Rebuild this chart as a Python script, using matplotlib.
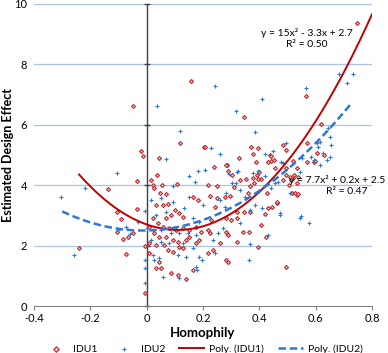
import numpy as np
import matplotlib
matplotlib.use("Agg")
import matplotlib.pyplot as plt

# IDU1 points (homophily, design effect)
idu1_x = [-0.24, -0.138, -0.107, -0.092, -0.107, -0.083, -0.068, -0.047, -0.072, -0.048,
          -0.035, -0.033, -0.021, -0.012, -0.005, -0.005, 0.015, 0.021, 0.027, 0.038,
          0.045, 0.055, 0.108, 0.119, 0.157, 0.205, 0.048, 0.07, 0.033, 0.057,
          0.074, 0.163, 0.183, 0.102, 0.116, 0.13, 0.087, 0.069, 0.022, 0.04,
          0.009, 0.057, 0.081, 0.104, 0.128, 0.151, 0.175, 0.193, 0.027, 0.045,
          0.069, 0.092, 0.11, 0.116, 0.128, 0.14, 0.151, 0.009, 0.033, 0.062,
          0.074, 0.092, 0.175, 0.187, 0.033, 0.05, 0.045, 0.087, 0.11, 0.163,
          0.139, 0.009, 0.225, 0.248, 0.242, 0.278, 0.296, 0.361, 0.32, 0.344,
          0.367, 0.42, 0.281, 0.299, 0.322, 0.23, 0.219, 0.225, 0.281, 0.287,
          0.343, 0.362, 0.322, 0.26, 0.236, 0.396, 0.281, 0.287, 0.219, 0.496,
          0.446, 0.464, 0.517, 0.535, 0.505, 0.535, 0.511, 0.523, 0.422, 0.405,
          0.426, 0.381, 0.333, 0.31, 0.407, 0.392, 0.239, 0.284, 0.288, 0.329,
          0.37, 0.394, 0.379, 0.388, 0.399, 0.353, 0.379, 0.396, 0.302, 0.248,
          0.219, 0.367, 0.207, 0.347, 0.564, 0.618, 0.748, 0.485, 0.493, 0.568,
          0.437, 0.431, 0.452, 0.606, 0.629, 0.57, 0.594, 0.519, 0.496, 0.496,
          0.508, 0.519, 0.537, 0.485, 0.525, 0.537, 0.461, 0.431, 0.283, 0.442,
          0.44, 0.457, 0.532, 0.597]
idu1_y = [1.91, 3.86, 3.12, 2.89, 2.44, 2.22, 2.27, 2.43, 1.73, 6.62,
          4.14, 3.21, 5.13, 4.97, 1.99, 0.44, 4.17, 4.0, 3.9, 4.34,
          4.89, 4.0, 4.03, 5.41, 7.45, 5.28, 3.75, 3.71, 3.34, 3.34,
          3.37, 3.62, 3.51, 3.18, 3.07, 2.96, 3.01, 2.90, 2.90, 2.74,
          2.63, 2.63, 2.57, 2.52, 2.57, 2.52, 2.63, 2.46, 2.41, 2.29,
          2.29, 2.19, 2.13, 1.96, 1.91, 2.19, 2.29, 2.08, 2.02, 2.02,
          1.85, 1.80, 2.08, 2.19, 1.25, 1.25, 1.47, 1.08, 1.03, 1.19,
          0.89, 1.74, 3.64, 3.57, 3.29, 3.62, 3.64, 3.75, 3.12, 3.12,
          3.12, 3.05, 2.90, 2.85, 2.90, 2.85, 2.52, 2.41, 2.46, 2.35,
          2.46, 2.46, 2.13, 2.08, 1.85, 1.96, 1.52, 1.47, 1.74, 1.28,
          3.29, 3.40, 3.73, 3.68, 4.0, 4.06, 4.17, 4.34, 2.29, 2.68,
          3.73, 4.06, 4.17, 3.95, 4.19, 4.34, 4.61, 4.67, 4.48, 4.89,
          5.28, 5.24, 5.02, 4.76, 4.43, 4.2, 4.23, 4.19, 4.34, 3.97,
          4.0, 3.97, 5.26, 6.25, 6.95, 6.02, 9.36, 5.33, 5.17, 5.39,
          5.0, 4.78, 4.83, 5.08, 5.0, 4.78, 4.78, 4.80, 4.56, 4.34,
          4.28, 4.23, 4.28, 4.17, 3.73, 3.70, 3.45, 3.24, 4.66, 4.98,
          4.79, 4.56, 4.56, 4.80]

# IDU2 points
idu2_x = [-0.303, -0.219, -0.258, -0.105, -0.1, -0.074, -0.059, -0.03, -0.006, -0.006,
          -0.006, -0.006, 0.035, 0.118, 0.07, 0.151, 0.183, 0.206, 0.173, 0.092,
          0.015, 0.05, 0.092, 0.149, 0.199, 0.134, 0.069, 0.033, 0.163, 0.187,
          0.0, 0.022, 0.05, 0.087, 0.116, 0.146, 0.175, 0.015, 0.05, 0.081,
          0.128, 0.163, 0.022, 0.045, 0.027, 0.11, 0.14, 0.187, 0.175, 0.116,
          0.057, 0.197, 0.18, 0.236, 0.254, 0.272, 0.33, 0.367, 0.385, 0.26,
          0.278, 0.242, 0.368, 0.363, 0.432, 0.473, 0.549, 0.578, 0.508, 0.457,
          0.408, 0.385, 0.23, 0.26, 0.42, 0.323, 0.377, 0.317, 0.302, 0.241,
          0.316, 0.408, 0.564, 0.682, 0.733, 0.712, 0.643, 0.65, 0.656, 0.603,
          0.615, 0.615, 0.478, 0.496, 0.594, 0.543, 0.466, 0.472, 0.543, 0.65,
          0.292, 0.319, 0.397, 0.485, 0.55, 0.582, 0.641, 0.626, 0.608, 0.449,
          0.35, 0.40, 0.44, 0.33, 0.28, 0.42]
idu2_y = [3.61, 3.92, 1.69, 4.39, 2.52, 2.6, 2.38, 2.77, 3.16, 1.52,
          1.25, 0.77, 6.62, 5.78, 4.88, 4.32, 4.47, 4.5, 4.1, 3.97,
          3.51, 3.57, 3.45, 3.62, 3.34, 3.24, 3.12, 3.01, 2.90, 2.79,
          2.57, 2.52, 2.52, 2.41, 2.41, 2.43, 2.35, 2.19, 2.13, 2.08,
          2.08, 1.91, 1.69, 1.58, 1.52, 1.69, 1.63, 1.63, 1.30, 0.92,
          0.97, 1.52, 1.19, 2.19, 2.41, 2.57, 2.74, 3.18, 3.34, 3.51,
          3.29, 1.74, 2.05, 1.52, 2.35, 3.07, 2.99, 2.76, 3.73, 4.06,
          3.24, 5.77, 5.22, 5.02, 5.02, 4.48, 4.39, 4.08, 4.06, 7.3,
          6.45, 6.84, 7.21, 7.67, 7.67, 7.38, 5.88, 5.61, 5.33, 5.39,
          5.44, 4.67, 4.78, 5.41, 4.83, 4.45, 4.12, 3.01, 2.90, 4.94,
          4.36, 4.45, 4.48, 4.75, 4.91, 4.94, 4.82, 5.06, 5.28, 5.13,
          3.6, 3.8, 3.9, 3.85, 3.75, 4.3]

# trendline coefficients as printed on the chart (x^2, x, 1)
poly1 = [15, -3.3, 2.7]
poly2 = [7.7, 0.2, 2.5]
poly1_range = (-0.24, 0.80)
poly2_range = (-0.30, 0.73)

xticks = [-0.4, -0.2, 0, 0.2, 0.4, 0.6, 0.8]
xticklabels = ["-0.4", "-0.2", "0", "0.2", "0.4", "0.6", "0.8"]
yticks = [0, 2, 4, 6, 8, 10]

red = "#C0272D"
blue = "#2F78D8"

plt.rcParams["font.family"] = ["Lato", "DejaVu Sans"]

fig = plt.figure(figsize=(3.88, 3.53), dpi=100)
ax = fig.add_axes([0.0876, 0.1331, 0.8712, 0.8556])

for y in yticks[1:]:
    ax.axhline(y, color="#A9C3E6", lw=0.9, zorder=0)

ax.scatter(idu1_x, idu1_y, marker="D", s=4, facecolors="#F5CFD0",
           edgecolors=red, linewidths=0.8, zorder=3, label="IDU1")
ax.scatter(idu2_x, idu2_y, marker="+", s=5, color=blue, linewidths=0.8,
           zorder=3, label="IDU2")

xs1 = np.linspace(*poly1_range, 200)
xs2 = np.linspace(*poly2_range, 200)
ax.plot(xs1, np.polyval(poly1, xs1), color="#C00000", lw=1.4, zorder=4,
        label="Poly. (IDU1)")
ax.plot(xs2, np.polyval(poly2, xs2), color=blue, lw=1.8, ls=(0, (3, 1.5)),
        zorder=4, label="Poly. (IDU2)")

# vertical axis crossing at x = 0
ax.axvline(0, color="#404040", lw=1.0, zorder=2)
ax.plot(np.zeros(len(yticks)), yticks, ls="none", marker="_", ms=5,
        mew=1, color="#404040", zorder=2, clip_on=False)

ax.set_xlim(-0.4, 0.8)
ax.set_ylim(0, 10)
ax.set_xticks(xticks)
ax.set_xticklabels(xticklabels)
ax.set_yticks(yticks)
ax.tick_params(axis="y", length=0, pad=5, labelsize=8)
ax.tick_params(axis="x", length=3, direction="out", color="#808080",
               labelsize=8, pad=2)
for s in ["top", "right", "left"]:
    ax.spines[s].set_visible(False)
ax.spines["bottom"].set_color("#808080")

ax.set_xlabel("Homophily", fontsize=9.5, fontweight="bold", va="center")
ax.xaxis.set_label_coords(0.5, -0.09)
ax.set_ylabel("Estimated Design Effect", fontsize=9, fontweight="bold",
              va="center")
ax.yaxis.set_label_coords(-0.078, 0.5)

ax.text(0.569, 9.05, "y = 15x² - 3.3x + 2.7", ha="center", va="center",
        fontsize=7.5, clip_on=False)
ax.text(0.569, 8.66, "R² = 0.50", ha="center", va="center", fontsize=7.5,
        clip_on=False)
ax.text(0.848, 4.17, "y = 7.7x² + 0.2x + 2.5", ha="right", va="center",
        fontsize=7.5, clip_on=False)
ax.text(0.71, 3.80, "R² = 0.47", ha="center", va="center", fontsize=7.5,
        clip_on=False)

ax.legend(loc="center", bbox_to_anchor=(0.5, -0.142), ncol=4,
          frameon=False, fontsize=7.5, handlelength=2.4, columnspacing=1.3,
          handletextpad=0.5, borderaxespad=0, markerscale=1.4)

fig.savefig("out.png", dpi=100)
